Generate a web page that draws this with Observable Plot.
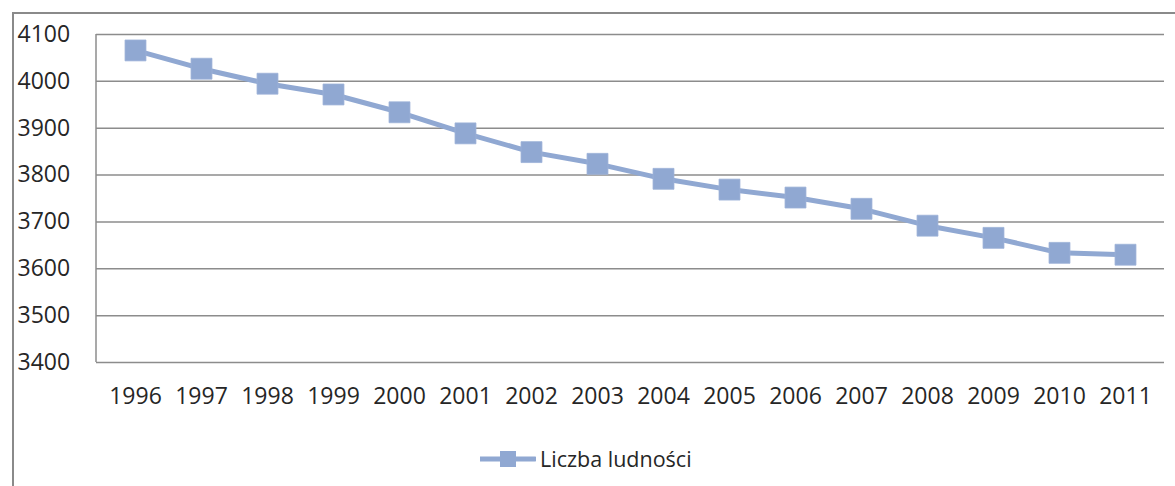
<!DOCTYPE html>
<html>
<head>
<meta charset="utf-8">
<script src="https://cdn.jsdelivr.net/npm/d3@7"></script>
<script src="https://cdn.jsdelivr.net/npm/@observablehq/plot@0.6"></script>
<style>
  html, body { margin: 0; padding: 0; background: #fff; }
  body { width: 1175px; height: 486px; overflow: hidden; position: relative; font-family: "Open Sans", sans-serif; }
  #frame { position: absolute; left: 12px; top: 12px; width: 1200px; height: 500px;
           border-top: 2px solid #8a8a8a; border-left: 2px solid #8a8a8a; pointer-events: none; }
  #chart { position: absolute; left: 0; top: 0; }
  #legend { position: absolute; left: 480px; top: 446px; display: flex; align-items: center; height: 26px;
            font-size: 21.5px; color: #262626; white-space: nowrap; }
  #legend span { margin-left: 4px; line-height: 26px; }
</style>
</head>
<body>
<div id="chart"></div>
<div id="frame"></div>
<div id="legend"></div>
<script>
const years = ["1996","1997","1998","1999","2000","2001","2002","2003","2004","2005","2006","2007","2008","2009","2010","2011"];
const population = [4066, 4027, 3995, 3972, 3934, 3889, 3849, 3824, 3792, 3769, 3752, 3728, 3692, 3666, 3634, 3630];
const yTicks = [3400, 3500, 3600, 3700, 3800, 3900, 4000, 4100];
const seriesName = "Liczba ludności";

const color = "#90a8d2";
const gridColor = "#8c8c8c";
const data = years.map((y, i) => ({year: y, value: population[i]}));

const chart = Plot.plot({
  width: 1175,
  height: 420,
  marginLeft: 96,
  marginRight: 11,
  marginTop: 34,
  marginBottom: 58,
  x: {type: "point", domain: years, padding: 0.5, align: 0.5, label: null},
  y: {domain: [3400, 4100], label: null},
  style: {fontFamily: "'Open Sans', sans-serif", fontSize: "23px", color: "#262626", background: "transparent"},
  marks: [
    Plot.ruleY(yTicks, {stroke: gridColor, strokeWidth: 1.5}),
    (index, scales, values, dims) => {
      const ns = "http://www.w3.org/2000/svg";
      const l = document.createElementNS(ns, "line");
      l.setAttribute("x1", dims.marginLeft); l.setAttribute("x2", dims.marginLeft);
      l.setAttribute("y1", dims.marginTop); l.setAttribute("y2", dims.height - dims.marginBottom);
      l.setAttribute("stroke", gridColor); l.setAttribute("stroke-width", 1.5);
      return l;
    },
    Plot.axisY(yTicks, {tickSize: 0, tickPadding: 79, textAnchor: "start", fontSize: 23, fill: "#262626", label: null, tickFormat: d => String(d)}),
    Plot.axisX(years, {tickSize: 0, tickPadding: 25, fontSize: 23, fill: "#262626", label: null}),
    Plot.line(data, {x: "year", y: "value", stroke: color, strokeWidth: 5}),
    Plot.dot(data, {x: "year", y: "value", symbol: "square", r: 11.8, fill: color, stroke: "#9db2d8", strokeWidth: 0.8})
  ]
});
document.getElementById("chart").appendChild(chart);

const legend = document.getElementById("legend");
legend.innerHTML = `<svg width="56" height="26"><line x1="0" x2="55" y1="13" y2="13" stroke="${color}" stroke-width="5" stroke-linecap="round"/><rect x="20" y="5" width="16" height="16" fill="${color}"/></svg><span>${seriesName}</span>`;
</script>
</body>
</html>
